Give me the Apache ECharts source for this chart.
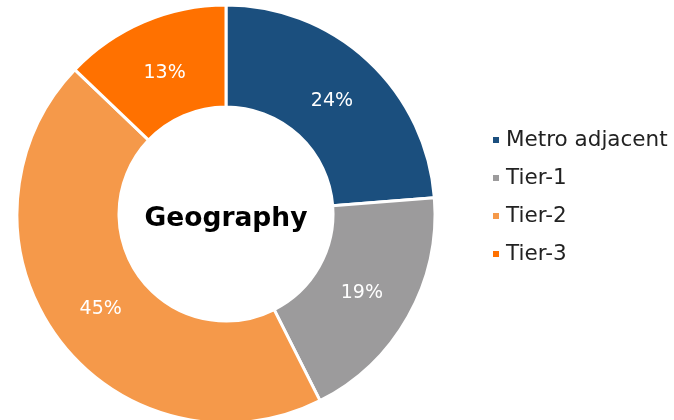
<!DOCTYPE html>
<html><head><meta charset="utf-8">
<script src="https://cdn.jsdelivr.net/npm/echarts@6/dist/echarts.min.js"></script>
<style>html,body{margin:0;padding:0;background:#fff}#c{width:674px;height:420px}</style>
</head><body><div id="c"></div>
<script>
const categories = ['Metro adjacent', 'Tier-1', 'Tier-2', 'Tier-3'];
const values = [24, 19, 45, 13];
const colors = ['#1B4F7E', '#9C9B9C', '#F5994A', '#FF7100'];
const centerTitle = 'Geography';
const FONT = '"DejaVu Sans", sans-serif';
const CX = 226, CY = 214, LABEL_R = 156;

const chart = echarts.init(document.getElementById('c'), null, {renderer: 'canvas'});
chart.setOption({
  animation: false,
  color: colors,
  legend: {
    orient: 'vertical',
    left: 486,
    top: 124,
    itemWidth: 8,
    itemHeight: 8,
    itemGap: 16,
    icon: 'rect',
    data: categories,
    textStyle: {fontFamily: FONT, fontSize: 21.5, color: '#222', padding: [0,0,0,1]}
  },
  graphic: [{
    type: 'text',
    z: 100,
    x: CX, y: 219,
    style: {text: centerTitle, align: 'center', verticalAlign: 'middle',
      font: 'bold 26.5px ' + FONT, fill: '#000'}
  }],
  series: [{
    type: 'pie',
    center: [CX, CY],
    radius: [107, 209],
    startAngle: 90,
    clockwise: true,
    avoidLabelOverlap: false,
    itemStyle: {borderColor: '#fff', borderWidth: 3},
    label: {
      show: true, position: 'inside', color: '#fff',
      fontFamily: FONT, fontSize: 19, fontWeight: 'normal',
      formatter: p => p.value + '%'
    },
    labelLayout: function (p) {
      const r = p.labelRect;
      const lx = r.x + r.width / 2, ly = r.y + r.height / 2;
      const dx = lx - CX, dy = ly - CY;
      const s = LABEL_R / Math.hypot(dx, dy);
      return {x: CX + dx * s, y: CY + dy * s + 2, align: 'center', verticalAlign: 'middle'};
    },
    labelLine: {show: false},
    data: categories.map((c, i) => ({name: c, value: values[i]}))
  }]
});
</script></body></html>
